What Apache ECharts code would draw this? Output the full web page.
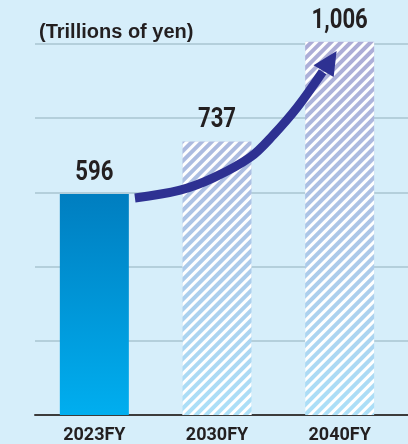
<!DOCTYPE html>
<html>
<head>
<meta charset="utf-8">
<script src="https://cdn.jsdelivr.net/npm/echarts@6/dist/echarts.min.js"></script>
<style>
html,body{margin:0;padding:0;background:#d6eefa;}
#chart{width:408px;height:444px;}
</style>
</head>
<body>
<div id="chart"></div>
<script>
// ---- data ----
const categories = ['2023FY', '2030FY', '2040FY'];
const values = [596, 737, 1006];
const valueLabels = ['596', '737', '1,006'];
const yTicks = [0, 200, 400, 600, 800, 1000];
const unitLabel = '(Trillions of yen)';
// arrow annotation path in data units: [category position, value]
const arrowPath = [[0.331, 585], [0.699, 606], [0.969, 639], [1.272, 695], [1.46, 755], [1.656, 830], [1.861, 925]];
const arrowHead = [[1.975, 981], [1.787, 943], [1.951, 911]];

const NUMFONT = 'Roboto, "Liberation Sans", sans-serif';
const TEXT = '#231f20';

const chart = echarts.init(document.getElementById('chart'), null, {renderer: 'canvas'});

const hatchGradient = new echarts.graphic.LinearGradient(0, 44, 0, 415, [
  {offset: 0, color: '#acacd6'},
  {offset: 1, color: '#ace0f8'}
], true);
const solidGradient = new echarts.graphic.LinearGradient(0, 0, 0, 1, [
  {offset: 0, color: '#007ec0'},
  {offset: 1, color: '#00aeef'}
]);
const hatchDecal = {
  symbol: 'rect', symbolSize: 1, dashArrayX: [1, 0], dashArrayY: [3, 4],
  rotation: -Math.PI / 4, color: '#ffffff'
};

const barData = values.map((v, i) => ({
  value: v,
  itemStyle: i === 0 ? {color: solidGradient} : {color: hatchGradient, decal: hatchDecal}
}));

const yMin = yTicks[0], yMax = yTicks[yTicks.length - 1], yInt = yTicks[1] - yTicks[0];

chart.setOption({
  backgroundColor: '#d6eefa',
  animation: false,
  title: {
    text: unitLabel, left: 39, top: 22, padding: 0,
    textStyle: {fontFamily: '"Liberation Sans", Arial, sans-serif', fontWeight: 'bold', fontSize: 20, color: TEXT}
  },
  grid: [
    {left: 35, right: 0, top: 44, bottom: 29},
    {left: 33, right: 7, top: 44, bottom: 29}
  ],
  xAxis: [
    {gridIndex: 0, type: 'value', min: 0, max: 1, position: 'bottom',
      axisLine: {show: true, onZero: false, lineStyle: {color: '#3c3c3c', width: 2}},
      axisTick: {show: false}, axisLabel: {show: false}, splitLine: {show: false}},
    {gridIndex: 1, type: 'category', data: categories,
      axisLine: {show: false}, axisTick: {show: false},
      axisLabel: {fontFamily: NUMFONT, fontWeight: 'bold', fontSize: 18, color: TEXT, margin: 11}}
  ],
  yAxis: [
    {gridIndex: 0, type: 'value', min: yMin, max: yMax, interval: yInt,
      axisLine: {show: false}, axisTick: {show: false}, axisLabel: {show: false},
      splitLine: {show: true, showMinLine: false, lineStyle: {color: '#a9c5d1', width: 1.5}}},
    {gridIndex: 1, type: 'value', min: yMin, max: yMax, interval: yInt, show: false,
      splitLine: {show: false}}
  ],
  series: [{
    type: 'bar', xAxisIndex: 1, yAxisIndex: 1, data: barData,
    barWidth: 69, clip: false,
    label: {show: false}
  }]
});

function toPx(pt) {
  const c0 = chart.convertToPixel({xAxisIndex: 1}, 0);
  const c1 = chart.convertToPixel({xAxisIndex: 1}, 1);
  const y = chart.convertToPixel({yAxisIndex: 1}, pt[1]);
  return [c0 + pt[0] * (c1 - c0), y];
}

// value labels above bars (condensed by horizontal scaling)
const labelEls = values.map((v, i) => {
  const p = chart.convertToPixel({xAxisIndex: 1, yAxisIndex: 1}, [i, v]);
  return {
    type: 'text', x: p[0], y: p[1] - 21, scaleX: 0.82, z: 110,
    style: {text: valueLabels[i], align: 'center', verticalAlign: 'middle',
      font: 'bold 27px ' + NUMFONT, fill: TEXT}
  };
});

chart.setOption({
  graphic: [
    {type: 'polyline', z: 100,
      shape: {points: arrowPath.map(toPx), smooth: 0.35},
      style: {stroke: '#2e3192', lineWidth: 9, fill: null, lineCap: 'butt'}},
    {type: 'polygon', z: 101,
      shape: {points: arrowHead.map(toPx)},
      style: {fill: '#2e3192'}}
  ].concat(labelEls)
});
</script>
</body>
</html>
